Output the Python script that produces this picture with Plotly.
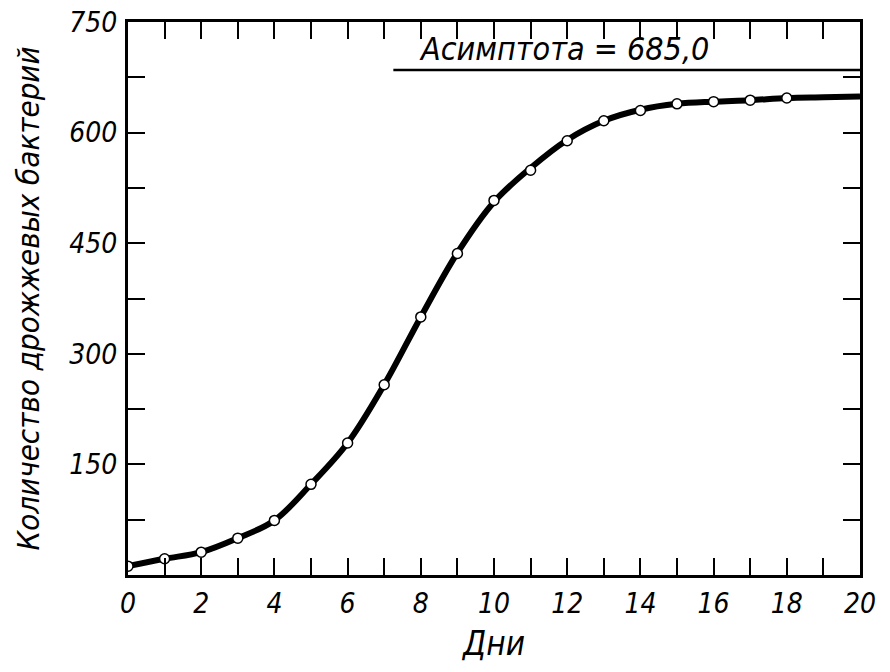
import plotly.graph_objects as go

# Yeast culture growth: observed counts by day and the smooth growth curve
days = list(range(0, 19))
counts = [12, 22, 31, 50, 74, 123, 179, 258, 350, 436, 508, 549, 589, 616, 630, 639, 642, 644, 647]

curve_days = list(range(0, 21))
curve_values = [12, 22, 31, 50, 74, 123, 179, 258, 350, 437, 506, 552, 590, 616, 631, 639, 642, 644, 647, 648, 649]

asymptote = 685.0
asymptote_from_day = 7.25
asymptote_label = "Асимптота = 685,0"

x_ticks = list(range(0, 21))
x_ticktext = [str(d) if d % 2 == 0 else "" for d in x_ticks]
y_ticks = list(range(0, 751, 75))
y_ticktext = [str(v) if v % 150 == 0 and v > 0 else "" for v in y_ticks]

x_title = "Дни"
y_title = "Количество дрожжевых бактерий"

FONT = "Liberation Sans Narrow, DejaVu Sans Condensed, DejaVu Sans, sans-serif"

def ital(size):
    return dict(family=FONT, size=size, color="black", style="italic")

fig = go.Figure()

# asymptote line
fig.add_trace(go.Scatter(
    x=[asymptote_from_day, curve_days[-1]], y=[asymptote, asymptote],
    mode="lines", line=dict(color="black", width=2.5),
    hoverinfo="skip", showlegend=False,
))

# smooth growth curve
fig.add_trace(go.Scatter(
    x=curve_days, y=curve_values, mode="lines",
    line=dict(color="black", width=6, shape="spline", smoothing=1.0),
    hoverinfo="skip", showlegend=False,
))

# observed points
fig.add_trace(go.Scatter(
    x=days, y=counts, mode="markers",
    marker=dict(symbol="circle", size=10, color="white",
                line=dict(color="black", width=1.5)),
    showlegend=False,
))

fig.add_annotation(
    x=11.9, y=asymptote, xref="x", yref="y",
    text=asymptote_label, showarrow=False,
    xanchor="center", yanchor="bottom", yshift=0,
    font=ital(32),
)

axis_common = dict(
    showline=True, linecolor="black", linewidth=3, mirror="ticks",
    ticks="inside", ticklen=17, tickwidth=2, tickcolor="black",
    showgrid=False, zeroline=False, tickfont=ital(28), automargin=False,
)

fig.update_xaxes(
    range=[0, 20], tickmode="array", tickvals=x_ticks, ticktext=x_ticktext,
    ticklabelstandoff=1,
    title=dict(text=x_title, font=ital(33), standoff=14),
    **axis_common,
)
fig.update_yaxes(
    range=[0, 750], tickmode="array", tickvals=y_ticks, ticktext=y_ticktext,
    ticklabelstandoff=2,
    title=dict(text=y_title, font=ital(31), standoff=21),
    **axis_common,
)

fig.update_layout(
    width=890, height=672,
    margin=dict(l=128, r=30, t=22, b=97),
    paper_bgcolor="white", plot_bgcolor="white",
    showlegend=False,
)

fig.write_html("out.html")
